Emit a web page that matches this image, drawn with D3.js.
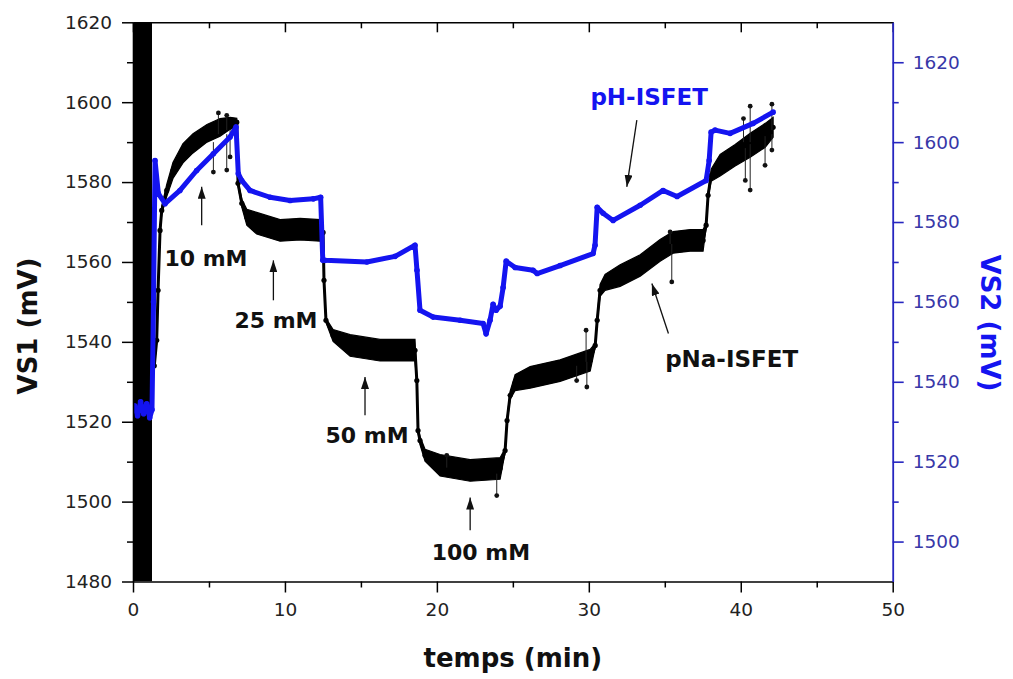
<!DOCTYPE html>
<html><head><meta charset="utf-8">
<script src="https://cdn.jsdelivr.net/npm/d3@7/dist/d3.min.js"></script>
<style>body{margin:0;background:#fff;} svg{display:block;}</style>
</head><body>
<svg id="c" width="1013" height="679"></svg>
<script>
// ---- data ----
// pNa-ISFET (VS1, left axis): time (min), value (mV), noise half-spread (mV)
const tPNa = [1.40,1.56,1.65,1.78,1.89,2.22,2.63,3.29,3.95,4.87,5.73,6.39,6.83,6.91,7.16,7.49,8.14,9.68,11.0,12.31,12.51,12.57,12.70,13.17,14.29,16.26,18.56,18.68,18.76,18.89,19.22,20.21,22.19,24.16,24.49,24.62,24.82,25.15,26.14,28.11,30.09,30.42,30.55,30.74,31.07,32.06,33.38,34.69,35.55,36.67,37.52,37.72,37.85,38.05,38.64,39.63,40.62,41.61,42.13];
const vPNa = [1534,1540.4,1552.9,1567.9,1572.9,1577.9,1582.9,1587.2,1589.7,1592.2,1593.7,1594.7,1595.0,1579.7,1574.7,1571.2,1569.7,1567.9,1568.2,1567.9,1567.4,1555.4,1545.4,1541.6,1539.1,1537.9,1537.9,1530.3,1517.8,1515.3,1511.6,1509.1,1507.8,1508.3,1512.8,1520.3,1526.6,1529.8,1531.1,1532.8,1535.4,1539.1,1545.4,1552.9,1554.9,1556.6,1559.1,1562.9,1564.9,1565.4,1565.4,1569.2,1576.7,1581.7,1584.2,1586.7,1589.2,1591.7,1593.7];
const sPNa = [0.5,0.5,0.5,0.5,1,1.5,2,2.4,2.4,2.2,2.2,1.5,1,0.5,1,2,2.7,2.7,2.7,2.7,0.5,0.5,0.5,1.5,2.7,2.7,2.7,0.5,0.5,1,1.5,2.7,2.7,2.7,0.5,0.5,1,2,2.7,2.7,2.7,0.5,0.5,1.5,2,2.7,2.7,2.7,2.7,2.7,2.7,0.5,0.5,1.5,2.7,2.7,3,3,2.5];
// isolated pNa outliers: time, curve value, outlier value
const spikeT    = [5.29,5.62,6.17,6.17,6.39,20.65,23.94,29.20,29.82,29.87,35.35,35.46,40.18,40.30,40.62,40.62,41.60,42.05,42.05];
const spikeBase = [1590,1592,1593,1592,1593,1508.5,1507,1534,1535,1535,1564.5,1564.5,1590,1588.5,1589.5,1590,1591.5,1593,1592];
const spikeTip  = [1582.5,1597.3,1596.7,1583,1586.3,1511.6,1501.5,1530.3,1542.9,1528.7,1567.5,1555.0,1595.9,1580.4,1578,1599,1584.2,1599.5,1588];
// saturated start of the pNa record (time span, covers the full VS1 range)
const startBlockT = [0, 1.25];

// pH-ISFET (VS2, right axis): time (min), value (mV)
const tPH = [0.10,0.30,0.50,0.70,0.90,1.10,1.25,1.35,1.45,1.67,2.11,3.09,4.19,5.29,6.39,6.78,6.93,7.15,7.70,9.02,10.34,11.87,12.35,12.49,12.64,15.39,17.25,18.56,18.69,18.89,19.75,21.53,23.04,23.24,23.50,23.70,23.90,24.16,24.36,24.56,25.15,26.33,26.60,28.11,30.28,30.41,30.55,30.94,31.60,33.38,34.89,35.81,37.72,37.92,38.05,38.31,39.30,40.82,42.13];
const vPH = [1534,1531.5,1535,1532,1534.5,1531,1533,1560,1595.4,1587.1,1584.6,1587.9,1592.9,1597.1,1601.3,1603.8,1592.1,1590.4,1587.9,1586.2,1585.4,1585.8,1586.2,1570.4,1570.4,1570.0,1571.4,1574.2,1567.9,1557.9,1556.2,1555.4,1554.6,1552.0,1555.4,1559.4,1557.9,1558.9,1563.6,1570.2,1568.6,1567.9,1567.1,1569.1,1572.1,1574.2,1583.7,1582.2,1580.4,1584.2,1587.9,1586.4,1590.4,1595.4,1602.5,1603.0,1602.2,1604.7,1607.5];

// axes
const xTicks = [0,10,20,30,40,50];
const yLeftTicks = [1480,1500,1520,1540,1560,1580,1600,1620];
const yRightTicks = [1500,1520,1540,1560,1580,1600,1620];
const xDomain = [0,50], yLeftDomain = [1480,1620], yRightDomain = [1490,1630];

// annotations (in time / VS1 units)
const annLabel = ["10 mM","25 mM","50 mM","100 mM","pH-ISFET","pNa-ISFET"];
const annT     = [4.8, 9.41, 15.4, 22.9, 33.97, 39.4];
const annV     = [1559.1, 1543.4, 1514.6, 1485.3, 1599.2, 1533.6];
const arrT0    = [4.52, 9.24, 15.27, 22.19, 33.16, 35.24];
const arrV0    = [1569.2, 1550.4, 1521.6, 1492.8, 1595.5, 1542.1];
const arrT1    = [4.52, 9.24, 15.27, 22.19, 32.50, 34.15];
const arrV1    = [1578.8, 1560.4, 1531.2, 1501.0, 1578.8, 1554.6];
const annIsPH  = [false,false,false,false,true,false];

// ---- drawing ----
const svg = d3.select("#c");
const L = 133, R = 892.7, T = 22.3, B = 581.5;
const x = d3.scaleLinear().domain(xDomain).range([L, R]);
const yL = d3.scaleLinear().domain(yLeftDomain).range([B, T]);
const yR = d3.scaleLinear().domain(yRightDomain).range([B, T]);
const BLUE = "#1414f0";
const font = "'DejaVu Sans', sans-serif";
const fmt = d3.format("d");

const defs = svg.append("defs");
defs.append("clipPath").attr("id","clip").append("rect")
  .attr("x",L).attr("y",T).attr("width",R-L).attr("height",B-T);
defs.append("marker").attr("id","ah").attr("viewBox","0 0 12 8")
  .attr("refX",12).attr("refY",4).attr("markerWidth",12).attr("markerHeight",8)
  .attr("markerUnits","userSpaceOnUse").attr("orient","auto")
  .append("path").attr("d","M0,0 L12,4 L0,8 Z").attr("fill","#111");

const plot = svg.append("g").attr("clip-path","url(#clip)");

// saturated start block
plot.append("rect")
  .attr("x", x(startBlockT[0])).attr("width", x(startBlockT[1]) - x(startBlockT[0]))
  .attr("y", yL(yLeftDomain[1])).attr("height", yL(yLeftDomain[0]) - yL(yLeftDomain[1]))
  .attr("fill","#000");

// pNa series
const pna = tPNa.map((t,i)=>({t, v:vPNa[i], s:sPNa[i]}));
plot.append("path").datum(pna)
  .attr("d", d3.area().x(d=>x(d.t)).y0(d=>yL(d.v - d.s)).y1(d=>yL(d.v + d.s)))
  .attr("fill","#000").attr("stroke","#000").attr("stroke-width",1.2);
plot.append("path").datum(pna)
  .attr("d", d3.line().x(d=>x(d.t)).y(d=>yL(d.v)))
  .attr("fill","none").attr("stroke","#000").attr("stroke-width",3);
plot.selectAll("circle.pna").data(pna).join("circle").attr("class","pna")
  .attr("cx",d=>x(d.t)).attr("cy",d=>yL(d.v)).attr("r",2.6).attr("fill","#000");
// outliers
spikeT.forEach((t,i)=>{
  plot.append("line").attr("x1",x(t)).attr("x2",x(t))
    .attr("y1",yL(spikeBase[i])).attr("y2",yL(spikeTip[i]))
    .attr("stroke","#222").attr("stroke-width",1);
  plot.append("circle").attr("cx",x(t)).attr("cy",yL(spikeTip[i])).attr("r",2.4).attr("fill","#111");
});

// pH series
const ph = tPH.map((t,i)=>({t, v:vPH[i]}));
plot.append("path").datum(ph)
  .attr("d", d3.line().x(d=>x(d.t)).y(d=>yR(d.v)))
  .attr("fill","none").attr("stroke",BLUE).attr("stroke-width",5).attr("stroke-linejoin","round");
plot.selectAll("circle.ph").data(ph).join("circle").attr("class","ph")
  .attr("cx",d=>x(d.t)).attr("cy",d=>yR(d.v)).attr("r",2.8).attr("fill",BLUE);

// ---- axes ----
const tickFont = g => g.selectAll("text").attr("font-family",font).attr("font-size",18.5);

// bottom
const xMinor = d3.range(5,50,10);
svg.append("g").attr("transform",`translate(0,${B})`)
  .call(d3.axisBottom(x).tickValues(xTicks).tickSize(11).tickPadding(10).tickSizeOuter(0).tickFormat(fmt))
  .call(g=>{g.select(".domain").attr("stroke","#000").attr("stroke-width",1.6);
            g.selectAll(".tick line").attr("stroke","#000").attr("stroke-width",1.5);
            g.selectAll("text").attr("fill","#222");})
  .call(tickFont);
svg.append("g").attr("transform",`translate(0,${B})`)
  .call(d3.axisBottom(x).tickValues(xMinor).tickSize(6).tickFormat(""))
  .call(g=>{g.select(".domain").remove(); g.selectAll(".tick line").attr("stroke","#000").attr("stroke-width",1.5);});

// top (inward ticks)
svg.append("g").attr("transform",`translate(0,${T})`)
  .call(d3.axisBottom(x).tickValues(xTicks).tickSize(10).tickSizeOuter(0).tickFormat(""))
  .call(g=>{g.select(".domain").attr("stroke","#000").attr("stroke-width",1.6);
            g.selectAll(".tick line").attr("stroke","#000").attr("stroke-width",1.5);});
svg.append("g").attr("transform",`translate(0,${T})`)
  .call(d3.axisBottom(x).tickValues(xMinor).tickSize(6).tickFormat(""))
  .call(g=>{g.select(".domain").remove(); g.selectAll(".tick line").attr("stroke","#000").attr("stroke-width",1.5);});

// left
svg.append("g").attr("transform",`translate(${L},0)`)
  .call(d3.axisLeft(yL).tickValues(yLeftTicks).tickSize(11).tickPadding(10).tickSizeOuter(0).tickFormat(fmt))
  .call(g=>{g.select(".domain").attr("stroke","#000").attr("stroke-width",1.6);
            g.selectAll(".tick line").attr("stroke","#000").attr("stroke-width",1.5);
            g.selectAll("text").attr("fill","#222");})
  .call(tickFont);
svg.append("g").attr("transform",`translate(${L},0)`)
  .call(d3.axisLeft(yL).tickValues(d3.range(1490,1620,20)).tickSize(6).tickFormat(""))
  .call(g=>{g.select(".domain").remove(); g.selectAll(".tick line").attr("stroke","#000").attr("stroke-width",1.5);});

// right (blue)
svg.append("g").attr("transform",`translate(${R},0)`)
  .call(d3.axisRight(yR).tickValues(yRightTicks).tickSize(11).tickPadding(9).tickSizeOuter(0).tickFormat(fmt))
  .call(g=>{g.select(".domain").attr("stroke","#2626c0").attr("stroke-width",1.8);
            g.selectAll(".tick line").attr("stroke","#2626c0").attr("stroke-width",1.6);
            g.selectAll("text").attr("fill","#3838a8");})
  .call(tickFont);
svg.append("g").attr("transform",`translate(${R},0)`)
  .call(d3.axisRight(yR).tickValues(d3.range(1510,1630,20)).tickSize(6).tickFormat(""))
  .call(g=>{g.select(".domain").remove(); g.selectAll(".tick line").attr("stroke","#2626c0").attr("stroke-width",1.6);});

// axis titles
svg.append("text").attr("x",(L+R)/2).attr("y",667).attr("text-anchor","middle")
  .attr("font-family",font).attr("font-weight","bold").attr("font-size",26).attr("fill","#111")
  .text("temps (min)");
svg.append("text").attr("transform","translate(37,326) rotate(-90)").attr("text-anchor","middle")
  .attr("font-family",font).attr("font-weight","bold").attr("font-size",26).attr("fill","#111")
  .text("VS1 (mV)");
svg.append("text").attr("transform","translate(981,323) rotate(90)").attr("text-anchor","middle")
  .attr("font-family",font).attr("font-weight","bold").attr("font-size",26).attr("fill",BLUE)
  .text("VS2 (mV)");

// annotations
annLabel.forEach((lab,i)=>{
  svg.append("line").attr("x1",x(arrT0[i])).attr("y1",yL(arrV0[i]))
    .attr("x2",x(arrT1[i])).attr("y2",yL(arrV1[i]))
    .attr("stroke","#111").attr("stroke-width",1.3).attr("marker-end","url(#ah)");
  svg.append("text").attr("x",x(annT[i])).attr("y",yL(annV[i])).attr("text-anchor","middle")
    .attr("font-family",font).attr("font-weight","bold")
    .attr("font-size", annIsPH[i] || lab==="pNa-ISFET" ? 23 : 22)
    .attr("fill", annIsPH[i] ? BLUE : "#111").text(lab);
});
</script>
</body></html>
